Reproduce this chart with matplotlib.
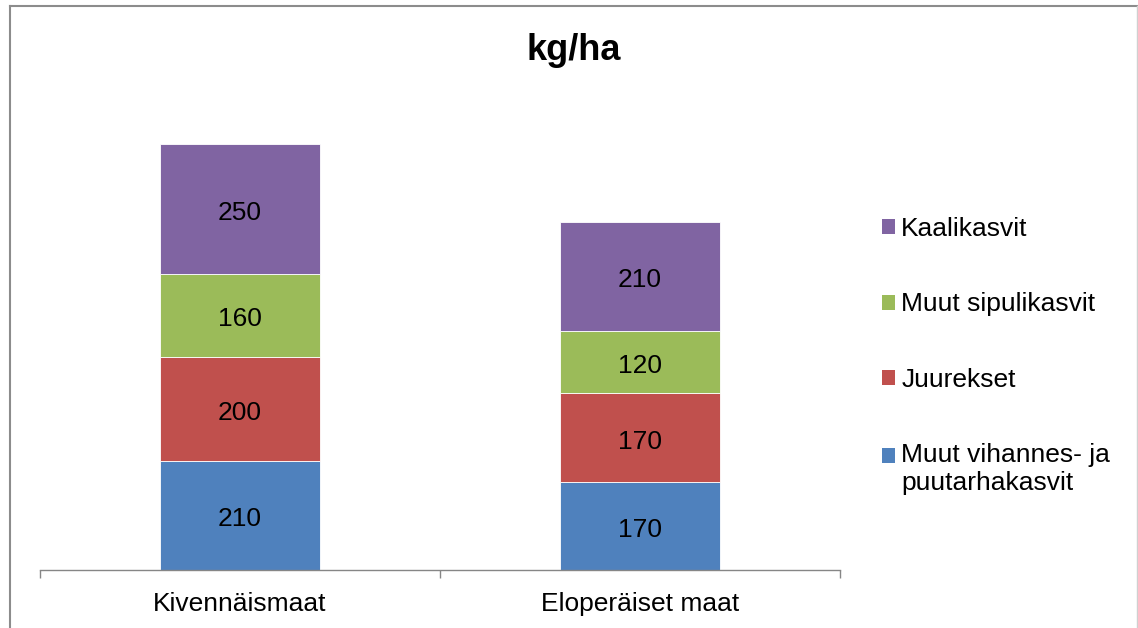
import matplotlib.pyplot as plt
import matplotlib.transforms as mtransforms
import numpy as np
from matplotlib.lines import Line2D
from matplotlib.patches import Patch

plt.rcParams["font.family"] = ["Liberation Sans", "DejaVu Sans"]

categories = ["Kivennäismaat", "Eloperäiset maat"]
series_names = [
    "Muut vihannes- ja\npuutarhakasvit",
    "Juurekset",
    "Muut sipulikasvit",
    "Kaalikasvit",
]
values = [
    [210, 170],  # Muut vihannes- ja puutarhakasvit
    [200, 170],  # Juurekset
    [160, 120],  # Muut sipulikasvit
    [250, 210],  # Kaalikasvit
]
colors = ["#4F81BD", "#C0504D", "#9BBB59", "#8064A2"]

fig = plt.figure(figsize=(11.38, 6.28), dpi=100)
ax = fig.add_axes([40 / 1138, 58 / 628, 800 / 1138, 467.6 / 628])

# nudge the value labels down a little so the digits sit in the middle
label_shift = ax.transData + mtransforms.ScaledTranslation(0, -4 / 100, fig.dpi_scale_trans)

x = np.arange(len(categories))
bottom = np.zeros(len(categories))
for name, vals, col in zip(series_names, values, colors):
    vals = np.array(vals, dtype=float)
    ax.bar(x, vals, 0.4, bottom=bottom, color=col, edgecolor="white",
           linewidth=0.6, label=name)
    for xi, b, v in zip(x, bottom, vals):
        ax.text(xi, b + v / 2, f"{v:.0f}", ha="center", va="center",
                fontsize=19, color="black", transform=label_shift)
    bottom += vals

ax.set_xlim(-0.5, 1.5)
ax.set_ylim(0, 900)
for side in ["top", "left", "right"]:
    ax.spines[side].set_visible(False)
ax.spines["bottom"].set_color("#868686")
ax.spines["bottom"].set_linewidth(1.0)
ax.set_yticks([])
ax.set_xticks(x)
ax.set_xticklabels(categories, fontsize=19)
ax.tick_params(axis="x", which="major", length=0, pad=16)
ax.set_xticks([-0.5, 0.5, 1.5], minor=True)
ax.tick_params(axis="x", which="minor", length=6, color="#868686", width=1.0)

# legend, top entry first
handles = [Patch(facecolor=c, edgecolor="none") for c in colors][::-1]
labels = series_names[::-1]
leg = ax.legend(handles, labels, loc="upper left",
                bbox_to_anchor=(882 / 1138, 1 - 217 / 628),
                bbox_transform=fig.transFigure, frameon=False, fontsize=19,
                handlelength=0.5, handleheight=0.5, handletextpad=0.23,
                labelspacing=1.95, borderpad=0, borderaxespad=0)
# square of the two-line entry goes next to its first line
last = leg.legend_handles[-1]
last.set_y(last.get_y() + 10)

fig.text(574 / 1138, 1 - 50 / 628, "kg/ha", ha="center", va="center",
         fontsize=26, fontweight="bold")

# chart border
fig.add_artist(Line2D([10 / 1138, 10 / 1138], [0, 1 - 6 / 628],
                      transform=fig.transFigure, color="#8c8c8c", lw=1.5))
fig.add_artist(Line2D([10 / 1138, 1137 / 1138], [1 - 6 / 628, 1 - 6 / 628],
                      transform=fig.transFigure, color="#8c8c8c", lw=1.5))
fig.add_artist(Line2D([1137 / 1138, 1137 / 1138], [0, 1 - 6 / 628],
                      transform=fig.transFigure, color="#d0d0d0", lw=1.0))

fig.savefig("out.png", dpi=100)
